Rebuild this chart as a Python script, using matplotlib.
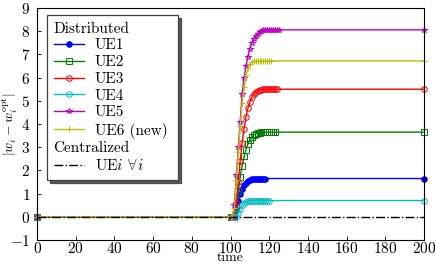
import numpy as np
import matplotlib
matplotlib.use('Agg')
from matplotlib import pyplot as plt
from matplotlib.lines import Line2D

plt.rcParams['font.family'] = 'serif'
plt.rcParams['font.serif'] = ['cmr10', 'DejaVu Serif']
plt.rcParams['mathtext.fontset'] = 'cm'
plt.rcParams['axes.formatter.use_mathtext'] = True
plt.rcParams['font.size'] = 11

# transient samples after the new UE joins at t=100 (one sample per time unit)
t_start = 100
ue1 = [0, 0, 0, 0.3, 0.7, 1.0, 1.2, 1.35, 1.46, 1.53, 1.58, 1.61, 1.63, 1.64, 1.65, 1.65, 1.65, 1.65, 1.65]
ue2 = [0, 0, 0, 0.4, 1.1, 1.7, 2.2, 2.6, 2.9, 3.15, 3.33, 3.45, 3.53, 3.58, 3.61, 3.63, 3.64, 3.65, 3.65, 3.65, 3.65, 3.65, 3.65, 3.65]
ue3 = [0, 0, 0, 0.6, 1.5, 2.4, 3.2, 3.8, 4.3, 4.7, 4.95, 5.15, 5.28, 5.37, 5.43, 5.46, 5.48, 5.49, 5.5, 5.5, 5.5, 5.5, 5.5, 5.5, 5.5]
ue4 = [0, 0, 0, 0, 0.15, 0.35, 0.5, 0.58, 0.63, 0.66, 0.68, 0.69, 0.7, 0.7, 0.7, 0.7, 0.7, 0.7, 0.7, 0.7, 0.7]
ue5 = [0, 0, 0.5, 1.8, 3.0, 4.1, 5.3, 6.0, 6.5, 6.9, 7.25, 7.5, 7.68, 7.8, 7.9, 7.97, 8.02, 8.05, 8.06, 8.06, 8.06, 8.06, 8.06, 8.06, 8.06, 8.06]
ue6 = [0, 0, 0.4, 1.6, 2.8, 3.9, 4.9, 5.6, 6.1, 6.4, 6.6, 6.68, 6.71, 6.72, 6.72, 6.72, 6.72, 6.72, 6.72, 6.72, 6.72, 6.72]
t_end = 200

series = [
    ('UE1', ue1, 'b', 'o', 'b'),
    ('UE2', ue2, 'g', 's', 'none'),
    ('UE3', ue3, 'r', 'o', 'none'),
    ('UE4', ue4, 'c', 'o', 'none'),
    ('UE5', ue5, 'm', '*', 'none'),
    ('UE6 (new)', ue6, 'y', '+', 'y'),
]

fig = plt.figure(figsize=(4.36, 2.63), dpi=100)
ax = fig.add_axes([0.085, 0.0875, 0.8875, 0.882])

handles = [Line2D([], [], linestyle='none', label='Distributed')]
for name, vals, col, mk, fc in series:
    vals = np.array(vals)
    t = np.concatenate([[0], t_start + np.arange(len(vals)), [t_end]])
    v = np.concatenate([[0], vals, [vals[-1]]])
    h, = ax.plot(t, v, color=col, marker=mk, markerfacecolor=fc, markersize=4,
                 markeredgewidth=0.7, linewidth=1.0, label=name, clip_on=False)
    handles.append(h)

hc, = ax.plot([0, t_end], [0, 0], color='k', linestyle='-.', linewidth=1.0, label=r'UE$i$ $\forall\, i$')
handles.append(Line2D([], [], linestyle='none', label='Centralized'))
handles.append(hc)

ax.set_xlim(0, 200)
ax.set_ylim(-1, 9)
ax.set_xticks(np.arange(0, 201, 20))
ax.set_yticks(np.arange(-1, 10, 1))
ax.tick_params(direction='in', length=3, width=0.6, top=False, right=False)
ax.tick_params(axis='y', pad=5)
ax.tick_params(axis='x', pad=0.5)
ax.set_xlabel('time', labelpad=-2.5, fontsize=10)
ax.set_ylabel(r'$|w_i - w_i^{\mathrm{opt}}|$', fontsize=10)
ax.yaxis.set_label_coords(-0.043, 0.5)

leg = ax.legend(handles=handles, loc='upper left', bbox_to_anchor=(0.025, 0.97),
                borderaxespad=0, fancybox=False, framealpha=1, edgecolor='0.25',
                shadow={'facecolor': '0.35', 'alpha': 1}, handlelength=2.0,
                handletextpad=0.7, labelspacing=0.2, borderpad=0.45, fontsize=11)
leg.get_frame().set_linewidth(0.9)

# shift header texts to the left edge, where the handles start
shift = (2.0 + 0.7) * 11 * fig.dpi / 72
for txt in leg.get_texts():
    if txt.get_text() in ('Distributed', 'Centralized'):
        txt.set_x(-shift)

fig.savefig('out.png', dpi=100)
